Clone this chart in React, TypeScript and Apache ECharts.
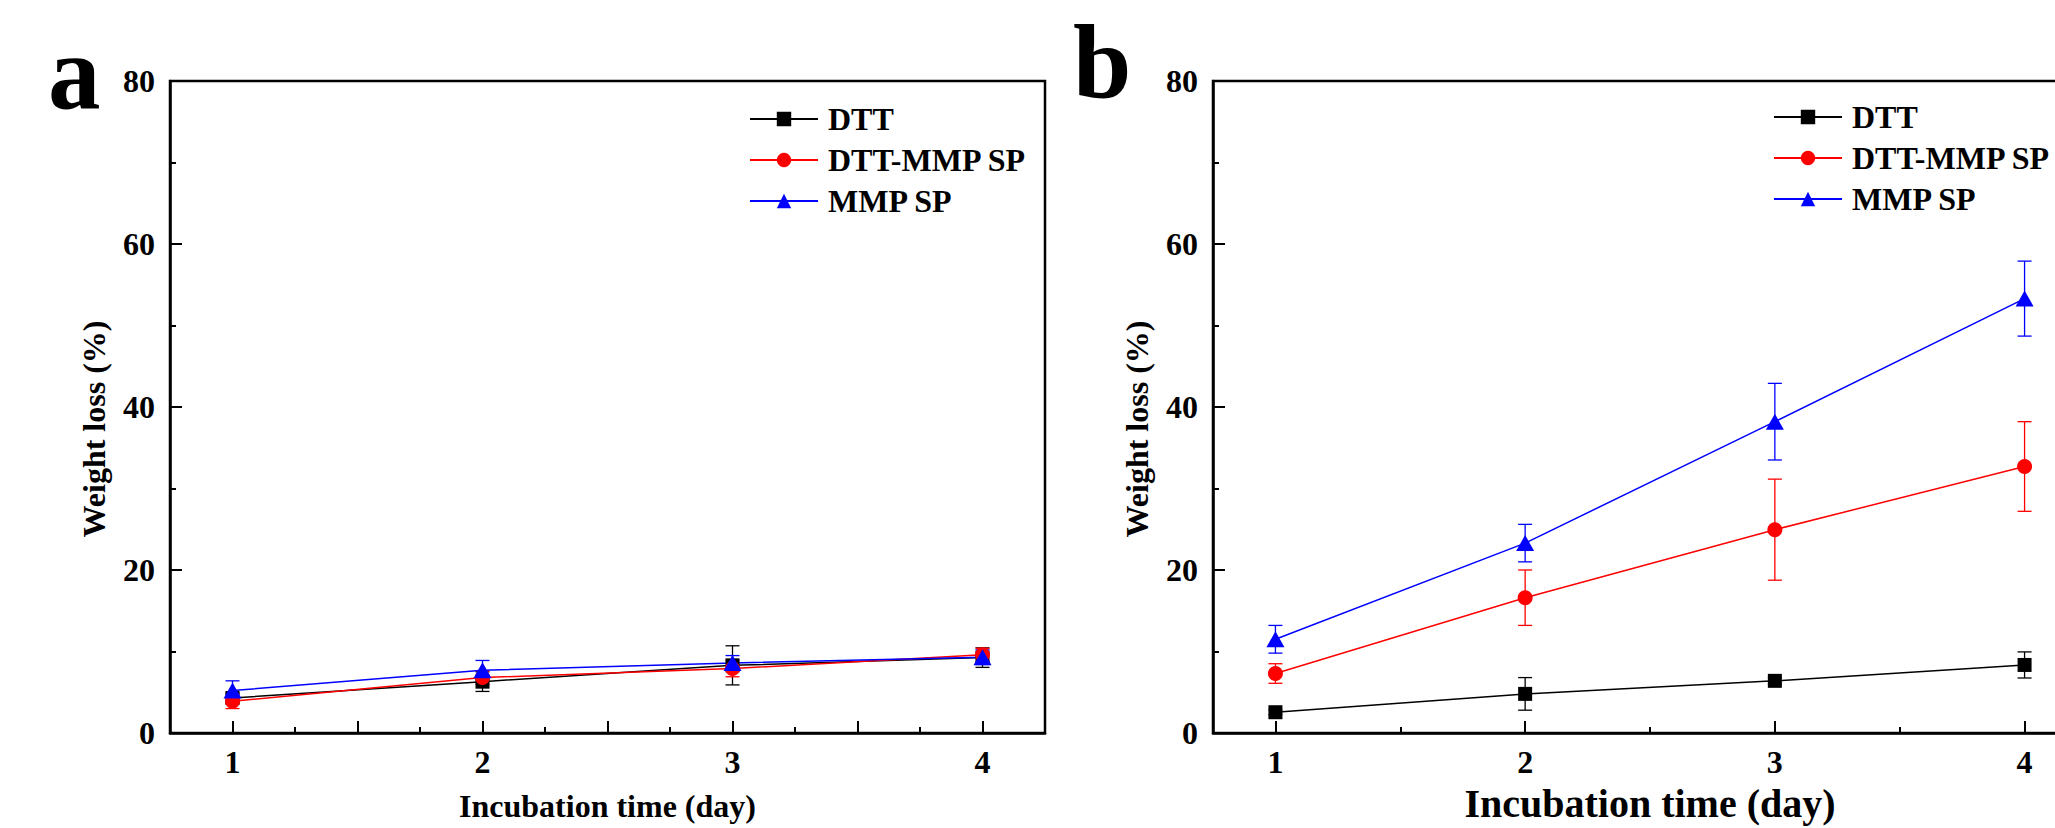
import React, { useEffect, useRef } from "react";
import * as echarts from "echarts";

// ---- data ----
const days = [1, 2, 3, 4];
const seriesNames = ["DTT", "DTT-MMP SP", "MMP SP"];
const seriesColors = ["#000000", "#ff0000", "#0000ff"];
const seriesSymbols = ["rect", "circle", "triangle"];

// panel a
const aDTT = [4.3, 6.3, 8.3, 9.25];
const aDTTErr = [0.6, 1.2, 2.4, 1.2];
const aDTTMMP = [3.9, 6.8, 7.9, 9.6];
const aDTTMMPErr = [0.9, 0.8, 1.0, 0.8];
const aMMP = [5.2, 7.7, 8.6, 9.3];
const aMMPErr = [1.2, 1.2, 0.9, 0.9];

// panel b
const bDTT = [2.55, 4.8, 6.4, 8.35];
const bDTTErr = [0.3, 2.0, 0.4, 1.6];
const bDTTMMP = [7.3, 16.6, 24.95, 32.7];
const bDTTMMPErr = [1.2, 3.4, 6.2, 5.5];
const bMMP = [11.5, 23.3, 38.2, 53.3];
const bMMPErr = [1.7, 2.3, 4.7, 4.6];

// ticks
const xLabelValues = [1, 2, 3, 4];
const aMajorTicks = [1, 1.5, 2, 2.5, 3, 3.5, 4];
const aMinorTicks = [1.25, 1.75, 2.25, 2.75, 3.25, 3.75];
const bMajorTicks = [1, 2, 3, 4];
const bMinorTicks = [1.5, 2.5, 3.5];

const FONT = "'Liberation Serif', 'Times New Roman', serif";

const errRender = (color: string) => (params: any, api: any) => {
  const x = api.value(0);
  const y = api.value(1);
  const e = api.value(2);
  const p1 = api.coord([x, y + e]);
  const p2 = api.coord([x, y - e]);
  const w = 7;
  const style = { stroke: color, lineWidth: 1.3, fill: null };
  return {
    type: "group",
    children: [
      { type: "line", shape: { x1: p1[0], y1: p1[1], x2: p2[0], y2: p2[1] }, style },
      { type: "line", shape: { x1: p1[0] - w, y1: p1[1], x2: p1[0] + w, y2: p1[1] }, style },
      { type: "line", shape: { x1: p2[0] - w, y1: p2[1], x2: p2[0] + w, y2: p2[1] }, style },
    ],
  };
};

function buildPanelSeries(values: number[][], errs: number[][], xAxisIndex: number, yAxisIndex: number) {
  const out: any[] = [];
  values.forEach((vals, i) => {
    out.push({
      type: "custom",
      name: seriesNames[i] + " err",
      xAxisIndex,
      yAxisIndex,
      z: 1,
      renderItem: errRender(seriesColors[i]),
      data: days.map((d, k) => [d, vals[k], errs[i][k]]),
      encode: { x: 0, y: 1 },
      silent: true,
    });
  });
  values.forEach((vals, i) => {
    out.push({
      type: "line",
      name: seriesNames[i],
      xAxisIndex,
      yAxisIndex,
      z: 3,
      data: days.map((d, k) => [d, vals[k]]),
      symbol: seriesSymbols[i],
      symbolSize: i === 0 ? 14 : i === 1 ? 15 : [18, 16],
      showSymbol: true,
      lineStyle: { color: seriesColors[i], width: 1.5 },
      itemStyle: { color: seriesColors[i] },
    });
  });
  return out;
}

const axisText = { color: "#000", fontFamily: FONT, fontWeight: "bold" as const };

function mainX(gridIndex: number, major: number[], nameSize: number, nameGap: number) {
  return {
    type: "value",
    gridIndex,
    position: "bottom",
    min: 0.75,
    max: 4.25,
    name: "Incubation time (day)",
    nameLocation: "middle",
    nameGap,
    nameMoveOverlap: false,
    nameTextStyle: { ...axisText, fontSize: nameSize },
    axisLine: { show: true, onZero: false, lineStyle: { color: "#000", width: 2.5 } },
    axisTick: { show: true, inside: true, length: 12, customValues: major, lineStyle: { color: "#000", width: 2 } },
    axisLabel: { show: true, customValues: xLabelValues, margin: 13, fontSize: 32, ...axisText },
    splitLine: { show: false },
  };
}

function minorX(gridIndex: number, minor: number[]) {
  return {
    type: "value",
    gridIndex,
    position: "bottom",
    offset: 0,
    min: 0.75,
    max: 4.25,
    axisLine: { show: false, onZero: false },
    axisTick: { show: true, inside: true, length: 6, customValues: minor, lineStyle: { color: "#000", width: 2 } },
    axisLabel: { show: false },
    splitLine: { show: false },
  };
}

function mainY(gridIndex: number) {
  return {
    type: "value",
    gridIndex,
    position: "left",
    min: 0,
    max: 80,
    interval: 20,
    name: "Weight loss (%)",
    nameLocation: "middle",
    nameGap: 60,
    nameRotate: 90,
    nameMoveOverlap: false,
    nameTextStyle: { ...axisText, fontSize: 32, padding: [0, 44, 0, 0] },
    axisLine: { show: true, onZero: false, lineStyle: { color: "#000", width: 2.5 } },
    axisTick: { show: true, inside: true, length: 12, lineStyle: { color: "#000", width: 2 } },
    minorTick: { show: true, splitNumber: 2, length: 6, lineStyle: { color: "#000", width: 2 } },
    axisLabel: { show: true, margin: 15, fontSize: 32, showMinLabel: true, showMaxLabel: true, ...axisText },
    splitLine: { show: false },
    minorSplitLine: { show: false },
  };
}

function legend(left: number, top: number) {
  return {
    orient: "vertical",
    left,
    top,
    padding: 0,
    itemGap: 9,
    itemWidth: 68,
    itemHeight: 18,
    selectedMode: false,
    data: seriesNames,
    textStyle: { ...axisText, fontSize: 32, lineHeight: 32, padding: [0, 0, 0, 5] },
  };
}

export default function App() {
  const ref = useRef<HTMLDivElement>(null);
  useEffect(() => {
    document.body.style.margin = "0";
    if (!ref.current) return;
    const chart = echarts.init(ref.current, undefined, { renderer: "svg" });
    const option: any = {
      animation: false,
      backgroundColor: "#ffffff",
      grid: [
        { left: 170, top: 81, width: 875, height: 652, show: true, borderColor: "#000", borderWidth: 2.5, outerBoundsMode: "none", containLabel: false },
        { left: 1213, top: 81, width: 874, height: 652, show: true, borderColor: "#000", borderWidth: 2.5, outerBoundsMode: "none", containLabel: false },
      ],
      xAxis: [
        mainX(0, aMajorTicks, 32, 57),
        minorX(0, aMinorTicks),
        mainX(1, bMajorTicks, 40, 50),
        minorX(1, bMinorTicks),
      ],
      yAxis: [mainY(0), mainY(1)],
      legend: [legend(749, 103), legend(1773, 101)],
      graphic: [
        { type: "text", left: 48, top: 20, style: { text: "a", fontSize: 105, fontFamily: FONT, fontWeight: "bold", fill: "#000" } },
        { type: "text", left: 1073, top: 10, style: { text: "b", fontSize: 105, fontFamily: FONT, fontWeight: "bold", fill: "#000" } },
      ],
      series: [
        ...buildPanelSeries([aDTT, aDTTMMP, aMMP], [aDTTErr, aDTTMMPErr, aMMPErr], 0, 0),
        ...buildPanelSeries([bDTT, bDTTMMP, bMMP], [bDTTErr, bDTTMMPErr, bMMPErr], 2, 1),
      ],
    };
    chart.setOption(option);
    return () => chart.dispose();
  }, []);
  return <div ref={ref} style={{ width: 2055, height: 828 }} />;
}
